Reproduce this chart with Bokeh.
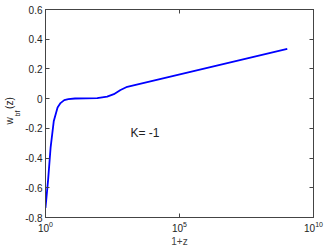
import math
from bokeh.plotting import figure
from bokeh.models import LogAxis, LinearAxis, FixedTicker, Label, Range1d, CustomJSTickFormatter, Title
from bokeh.embed import file_html
from bokeh.resources import INLINE

# data
onepz = [1.0, 1.26, 1.55, 2.04, 2.82, 3.63, 5.0, 7.1, 12.6, 31.6, 85.0, 200.0, 355.0, 630.0, 1120.0, 1.05e9]
w_bf = [-0.735, -0.54, -0.33, -0.15, -0.06, -0.03, -0.01, -0.003, 0.001, 0.002, 0.004, 0.013, 0.03, 0.058, 0.08, 0.335]
x_ticks = [1, 1e5, 1e10]
y_ticks = [-0.8, -0.6, -0.4, -0.2, 0, 0.2, 0.4, 0.6]
y_tick_labels = {-0.8: "-0.8", -0.6: "-0.6", -0.4: "-0.4", -0.2: "-0.2", 0: "0", 0.2: "0.2", 0.4: "0.4", 0.6: "0.6"}
annot_text = "K= -1"
annot_x, annot_y = 1480, -0.23

FONT = "Liberation Sans"
AX = "#444444"

p = figure(width=327, height=249, x_axis_type="log",
           x_range=Range1d(1, 1e10), y_range=Range1d(-0.8, 0.6),
           output_backend="svg", toolbar_location=None,
           min_border_left=45, min_border_right=14, min_border_top=9, min_border_bottom=31)
p.background_fill_color = "white"
p.border_fill_color = "white"
p.outline_line_color = AX
p.grid.visible = False

p.line(onepz, w_bf, line_color="#0000ff", line_width=1.8)

def style(ax, labels=True):
    ax.axis_line_color = AX
    ax.major_tick_line_color = AX
    ax.minor_tick_line_color = None
    ax.major_tick_in = 4
    ax.major_tick_out = 0
    ax.major_label_text_font = FONT
    ax.major_label_text_color = "#222222"
    ax.major_label_text_font_size = "10px"
    if not labels:
        ax.formatter = CustomJSTickFormatter(code="return ''")
        ax.major_label_standoff = 0

xa = p.xaxis[0]
xa.ticker = FixedTicker(ticks=x_ticks, minor_ticks=[])
style(xa)
xa.major_label_standoff = 3
xa.axis_label = "1+z"
xa.axis_label_text_font = FONT
xa.axis_label_text_font_size = "10px"
xa.axis_label_text_font_style = "normal"
xa.axis_label_standoff = 1

ya = p.yaxis[0]
ya.ticker = FixedTicker(ticks=y_ticks, minor_ticks=[])
ya.major_label_overrides = y_tick_labels
style(ya)
ya.major_label_standoff = 3

top = LogAxis(ticker=FixedTicker(ticks=x_ticks, minor_ticks=[]))
style(top, labels=False)
p.add_layout(top, "above")
right = LinearAxis(ticker=FixedTicker(ticks=y_ticks, minor_ticks=[]))
style(right, labels=False)
p.add_layout(right, "right")

# y label "w_bf(z)": subscript and main text as two side titles
t_sub = Title(text="bf", align="left", offset=101, standoff=4,
              text_font=FONT, text_font_size="7px", text_font_style="normal", text_color="#222222")
t_main = Title(text="w\u00a0\u00a0\u00a0(z)", align="left", offset=93, standoff=-10,
               text_font=FONT, text_font_size="10px", text_font_style="normal", text_color="#222222")
p.add_layout(t_sub, "left")
p.add_layout(t_main, "left")

p.add_layout(Label(x=annot_x, y=annot_y, text=annot_text, text_font=FONT, text_font_size="12px",
                   text_color="#222222", text_align="left", text_baseline="middle"))

open("out.html", "w").write(file_html(p, INLINE))
